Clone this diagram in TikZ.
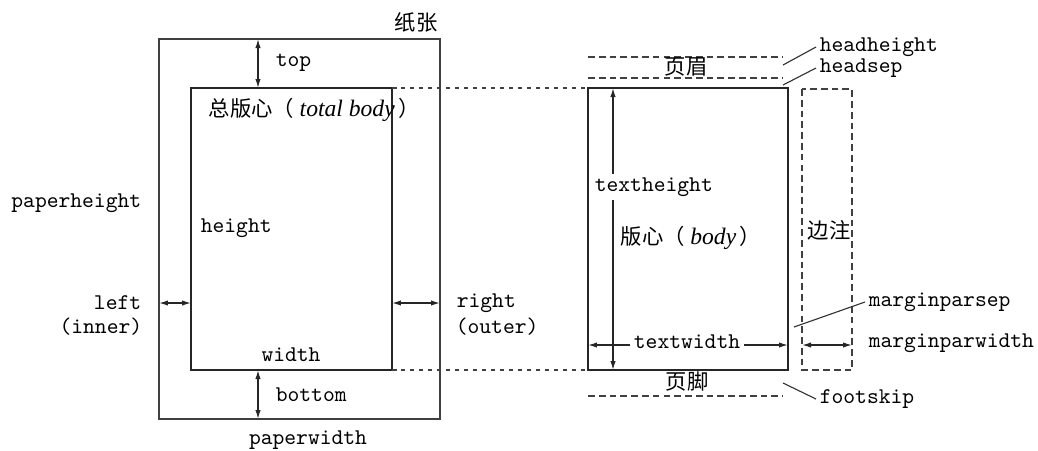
\documentclass[tikz,border=0pt]{standalone}
\usepackage{fontspec}
\newfontfamily\cjk{Noto Sans CJK SC}
\newfontfamily\tms{Liberation Serif}
\usetikzlibrary{arrows.meta,calc}

\begin{document}
\begin{tikzpicture}[x=0.445pt,y=-0.445pt]
  \tikzset{
    lbl/.style={font=\ttfamily, inner sep=1.5pt},
    zh/.style={font=\cjk\fontsize{9.5}{11}\selectfont, inner sep=1pt},
    dim/.style={{Latex[length=4pt,width=2.4pt]}-{Latex[length=4pt,width=2.4pt]}, line width=0.6pt, black!85},
    one/.style={-{Latex[length=4pt,width=2.4pt]}, line width=0.6pt, black!85},
    frame/.style={draw=black!75, line width=0.5pt},
    body/.style={draw=black!85, line width=1.1pt},
    guide/.style={black!75, line width=0.5pt, dash pattern=on 2pt off 2pt},
    part/.style={black!75, line width=0.5pt, dash pattern=on 3pt off 1.8pt},
    lead/.style={black!80, line width=0.5pt},
  }
  \useasboundingbox (0,0) rectangle (1038,450);
  % paper and total body
  \coordinate (pNW) at (159,39);
  \coordinate (pSE) at (440,419);
  \coordinate (tNW) at (191,88);
  \coordinate (tSE) at (392,370);
  \coordinate (xv) at (258,0);
  \coordinate (yh) at (0,303);
  \draw[frame] (pNW) rectangle (pSE);
  \draw[body] (tNW) rectangle (tSE);
  \draw[dim] (xv |- pNW) -- (xv |- tNW);
  \draw[dim] (xv |- tSE) -- (xv |- pSE);
  \draw[dim] (pNW |- yh) -- (tNW |- yh);
  \draw[dim] (tSE |- yh) -- (pSE |- yh);
  \node[zh] (paper) at (416,22) {纸张};
  \node[lbl, anchor=west] (top) at (272,63) {top};
  \node[lbl, anchor=west] (bottom) at (272,395) {bottom};
  \node[lbl, anchor=west] (height) at (197,228) {height};
  \node[lbl] (width) at (291,355) {width};
  \node[lbl, anchor=east] (pheight) at (145,203) {paperheight};
  \node[lbl] (pwidth) at (308,440) {paperwidth};
  \node[lbl, anchor=east] (left) at (145,303) {left};
  \node[lbl, anchor=east] (inner) at (146,327) {(inner)};
  \node[lbl, anchor=west] (right) at (453,303) {right};
  \node[lbl, anchor=west] (outer) at (452,327) {(outer)};
  \node[zh, anchor=west] (tbody) at (206,110) {总版心（\hspace{2.5pt}{\tms\itshape\fontsize{10.5}{12}\selectfont total body}\hspace{1.5pt}）};
  % body, head, foot and margin notes
  \coordinate (bNW) at (588,88);
  \coordinate (bSE) at (788,370);
  \coordinate (mNW) at (802,89);
  \coordinate (mSE) at (852,370);
  \coordinate (xt) at (613,0);
  \coordinate (ym) at (0,345);
  \draw[guide] (tSE |- tNW) -- (bNW);
  \draw[guide] (tSE) -- (bNW |- bSE);
  \draw[body] (bNW) rectangle (bSE);
  \draw[part] (mNW) rectangle (mSE);
  \draw[part] (588,57) -- (783,57);
  \draw[part] (588,78) -- (783,78);
  \draw[part] (588,396) -- (783,396);
  \node[zh] (head) at (686,67) {页眉};
  \node[zh] (foot) at (687,381) {页脚};
  \node[zh] (note) at (829,230) {边注};
  \node[zh, anchor=west] (body) at (618,238) {版心（\hspace{2.5pt}{\tms\itshape\fontsize{10.5}{12}\selectfont body}\hspace{1.5pt}）};
  \node[lbl, anchor=west] (theight) at (591,187) {textheight};
  \node[lbl] (twidth) at (687,342) {textwidth};
  \draw[one] (xt |- theight.north) -- (xt |- bNW);
  \draw[one] (xt |- theight.south) -- (xt |- bSE);
  \draw[one] (twidth.west |- ym) -- (bNW |- ym);
  \draw[one] (twidth.east |- ym) -- (bSE |- ym);
  \draw[dim] (mNW |- ym) -- (mSE |- ym);
  \node[lbl, anchor=west] (hheight) at (816,47) {headheight};
  \node[lbl, anchor=west] (hsep) at (816,68) {headsep};
  \node[lbl, anchor=west] (mpsep) at (865,302) {marginparsep};
  \node[lbl, anchor=west] (mpwidth) at (865,343) {marginparwidth};
  \node[lbl, anchor=west] (fskip) at (816,399) {footskip};
  \coordinate (hhA) at (783,65);
  \coordinate (hsA) at (783,85);
  \coordinate (msA) at (794,327);
  \coordinate (fsA) at (783,383);
  \draw[lead] (hhA) -- (hheight.west);
  \draw[lead] (hsA) -- (hsep.west);
  \draw[lead] (msA) -- (mpsep.west);
  \draw[lead] (fsA) -- (fskip.west);
\end{tikzpicture}
\end{document}
